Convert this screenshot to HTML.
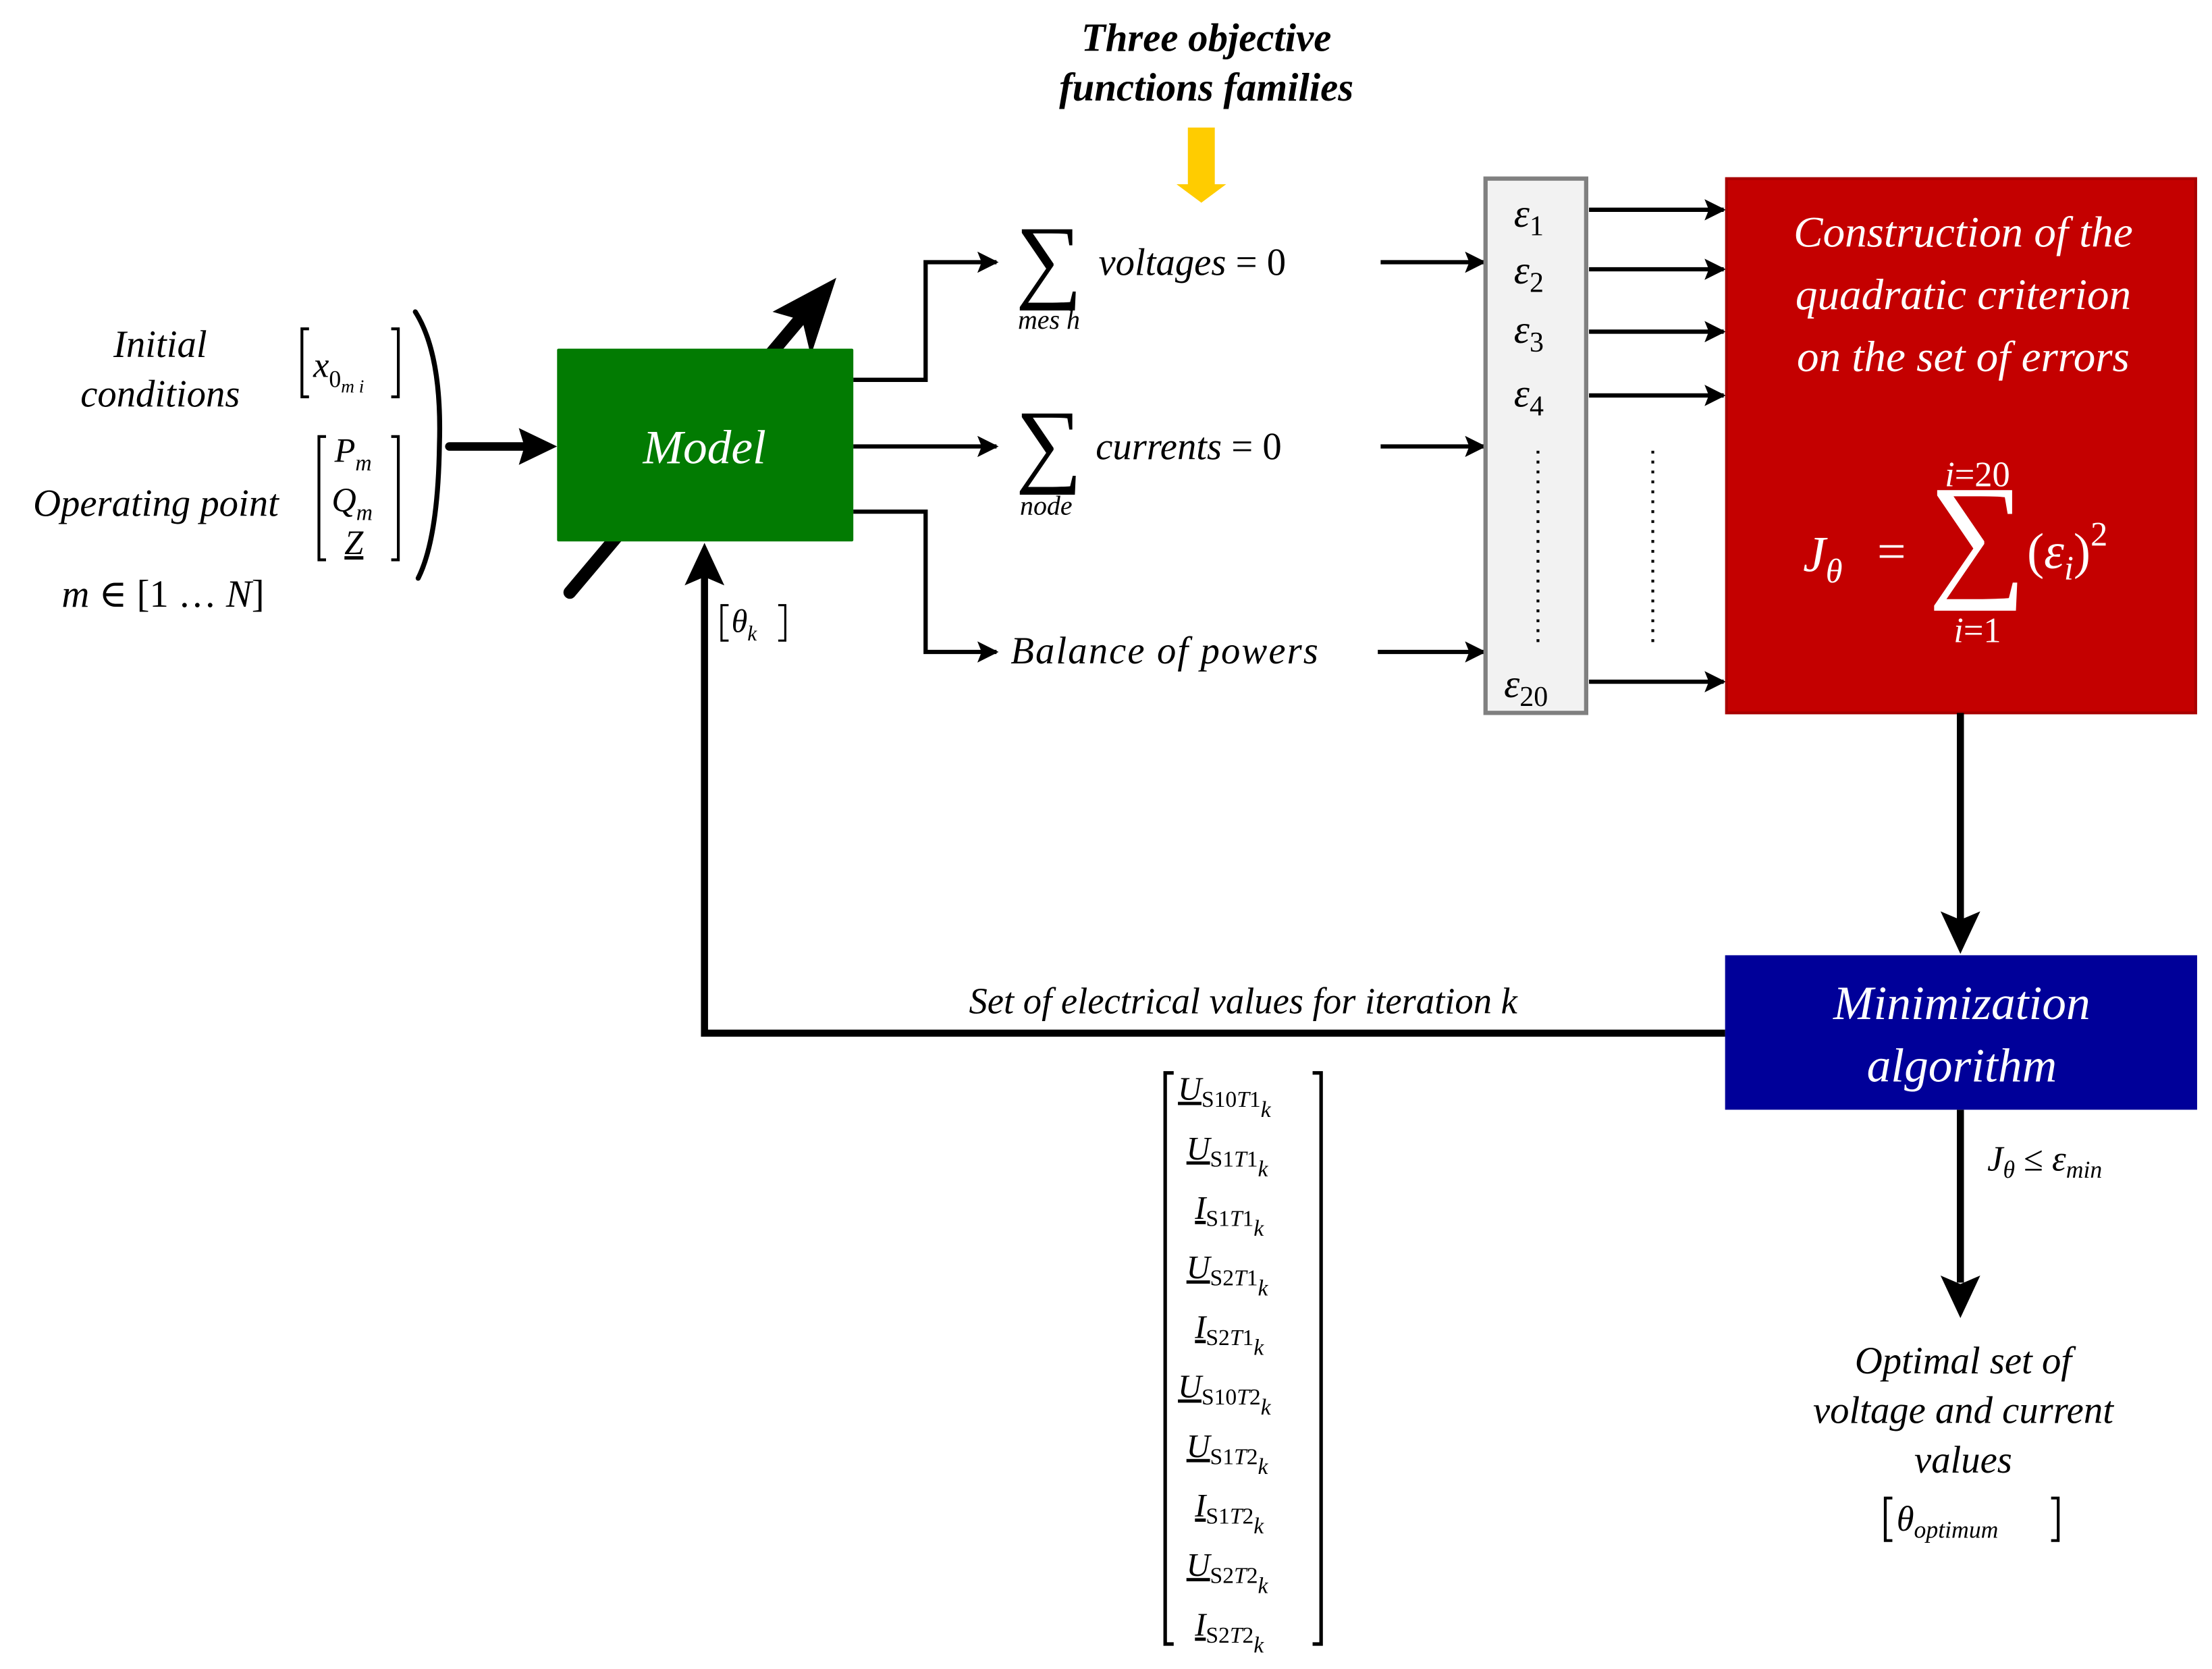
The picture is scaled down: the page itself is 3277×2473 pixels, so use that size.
<!DOCTYPE html>
<html><head><meta charset="utf-8"><style>
html,body{margin:0;padding:0;background:#fff;}
svg{display:block;}
text{font-family:"Liberation Serif","DejaVu Serif",serif;font-style:italic;}
</style></head><body>
<svg xmlns="http://www.w3.org/2000/svg" width="3277" height="2473" viewBox="0 0 1560.5 1177.6">
<defs>
<marker id="ah2" viewBox="0 0 10 10" refX="9" refY="5" markerWidth="5" markerHeight="5" orient="auto"><path d="M0,0 L10,5 L0,10 L2,5 Z" fill="#000"/></marker>
</defs>
<rect width="1560.5" height="1177.6" fill="#fff"/>

<!-- title -->
<text x="851" y="36" font-size="28" font-weight="bold" text-anchor="middle">Three objective</text>
<text x="851" y="71" font-size="28" font-weight="bold" text-anchor="middle">functions families</text>
<path d="M838,90 H857 V130 H865 L847.5,143 L830,130 H838 Z" fill="#ffcc00"/>

<!-- left inputs -->
<text x="113" y="252" font-size="27" text-anchor="middle">Initial</text>
<text x="113" y="287" font-size="27" text-anchor="middle">conditions</text>
<text x="110" y="364" font-size="27" text-anchor="middle">Operating point</text>
<text x="115" y="428" font-size="27" text-anchor="middle">m <tspan font-style="normal">∈ [1 … </tspan>N<tspan font-style="normal">]</tspan></text>
<path d="M218,232 H213 V280 H218 M276,232 H281 V280 H276" fill="none" stroke="#000" stroke-width="2"/>
<text x="221" y="266" font-size="25">x<tspan font-size="17" font-style="normal" dy="7">0</tspan><tspan font-size="13" dy="4">m i</tspan></text>
<path d="M230,308 H225 V395 H230 M276,308 H281 V395 H276" fill="none" stroke="#000" stroke-width="2"/>
<text x="236" y="326" font-size="24">P<tspan font-size="16" dy="6">m</tspan></text>
<text x="234" y="361" font-size="24">Q<tspan font-size="16" dy="6">m</tspan></text>
<text x="243" y="391" font-size="24" text-decoration="underline">Z</text>
<path d="M293,220 Q312,250 310,314 Q309,380 295,408" fill="none" stroke="#000" stroke-width="3.5" stroke-linecap="round"/>
<line x1="317" y1="315" x2="372" y2="315" stroke="#000" stroke-width="6" stroke-linecap="round"/>
<path d="M393,315 L366,302 L370,315 L366,328 Z" fill="#000"/>

<!-- diagonal arrow -->
<line x1="402" y1="418" x2="578" y2="209" stroke="#000" stroke-width="9" stroke-linecap="round"/>
<path d="M590,196 L572,251 L566,226 L545,220 Z" fill="#000"/>

<!-- model box -->
<rect x="393" y="246" width="209" height="136" fill="#027b02" rx="1"/>
<text x="497" y="327" font-size="34" fill="#fff" text-anchor="middle">Model</text>

<!-- model outputs -->
<path d="M602,268 H653 V185 H703" fill="none" stroke="#000" stroke-width="3" marker-end="url(#ah2)"/>
<path d="M602,315 H703" fill="none" stroke="#000" stroke-width="3" marker-end="url(#ah2)"/>
<path d="M602,361 H653 V460 H703" fill="none" stroke="#000" stroke-width="3" marker-end="url(#ah2)"/>

<text x="740" y="205" font-size="66" font-style="normal" text-anchor="middle">∑</text>
<text x="740" y="232" font-size="19" text-anchor="middle">mes h</text>
<text x="775" y="194" font-size="27">voltages <tspan font-style="normal">= 0</tspan></text>
<text x="740" y="335" font-size="66" font-style="normal" text-anchor="middle">∑</text>
<text x="738" y="363" font-size="19" text-anchor="middle">node</text>
<text x="773" y="324" font-size="27">currents <tspan font-style="normal">= 0</tspan></text>
<text x="713" y="468" font-size="27" letter-spacing="1">Balance of powers</text>

<line x1="974" y1="185" x2="1047" y2="185" stroke="#000" stroke-width="3" marker-end="url(#ah2)"/>
<line x1="974" y1="315" x2="1047" y2="315" stroke="#000" stroke-width="3" marker-end="url(#ah2)"/>
<line x1="972" y1="460" x2="1047" y2="460" stroke="#000" stroke-width="3" marker-end="url(#ah2)"/>

<!-- error box -->
<rect x="1048" y="126" width="71" height="377" fill="#f2f2f2" stroke="#808080" stroke-width="3"/>
<g font-size="28">
<text x="1068" y="160">ε<tspan font-size="20" font-style="normal" dy="6">1</tspan></text>
<text x="1068" y="200">ε<tspan font-size="20" font-style="normal" dy="6">2</tspan></text>
<text x="1068" y="242">ε<tspan font-size="20" font-style="normal" dy="6">3</tspan></text>
<text x="1068" y="287">ε<tspan font-size="20" font-style="normal" dy="6">4</tspan></text>
<text x="1061" y="492">ε<tspan font-size="20" font-style="normal" dy="6">20</tspan></text>
</g>
<line x1="1085" y1="318" x2="1085" y2="456" stroke="#000" stroke-width="2" stroke-dasharray="2,5"/>
<line x1="1166" y1="318" x2="1166" y2="456" stroke="#000" stroke-width="2" stroke-dasharray="2,5"/>
<g stroke="#000" stroke-width="3">
<line x1="1121" y1="148" x2="1216" y2="148" marker-end="url(#ah2)"/>
<line x1="1121" y1="190" x2="1216" y2="190" marker-end="url(#ah2)"/>
<line x1="1121" y1="234" x2="1216" y2="234" marker-end="url(#ah2)"/>
<line x1="1121" y1="279" x2="1216" y2="279" marker-end="url(#ah2)"/>
<line x1="1121" y1="481" x2="1216" y2="481" marker-end="url(#ah2)"/>
</g>

<!-- red box -->
<rect x="1218" y="126" width="331" height="377" fill="#c40000" stroke="#a80000" stroke-width="2"/>
<g fill="#fff" font-size="31">
<text x="1385" y="174" text-anchor="middle">Construction of the</text>
<text x="1385" y="218" text-anchor="middle">quadratic criterion</text>
<text x="1385" y="262" text-anchor="middle">on the set of errors</text>
<text x="1395" y="343" font-size="25" text-anchor="middle">i<tspan font-style="normal">=20</tspan></text>
<text x="1395" y="453" font-size="25" text-anchor="middle">i<tspan font-style="normal">=1</tspan></text>
<text x="1395" y="410" font-size="98" font-style="normal" text-anchor="middle">∑</text>
<text x="1272" y="403" font-size="36">J<tspan font-size="24" dy="8">θ</tspan></text>
<text x="1322" y="401" font-size="36" font-style="normal">=</text>
<text x="1430" y="401" font-size="36"><tspan font-style="normal">(</tspan>ε<tspan font-size="24" dy="8">i</tspan><tspan dy="-8" font-style="normal">)</tspan><tspan font-size="24" dy="-16" font-style="normal">2</tspan></text>
</g>

<!-- down arrows -->
<line x1="1383" y1="503" x2="1383" y2="650" stroke="#000" stroke-width="5"/>
<path d="M1383,673 L1369,643 L1383,649 L1397,643 Z" fill="#000"/>
<rect x="1217" y="674" width="333" height="109" fill="#000099"/>
<text x="1384" y="719" font-size="34" fill="#fff" text-anchor="middle">Minimization</text>
<text x="1384" y="763" font-size="34" fill="#fff" text-anchor="middle">algorithm</text>
<line x1="1383" y1="783" x2="1383" y2="905" stroke="#000" stroke-width="5"/>
<path d="M1383,930 L1369,900 L1383,906 L1397,900 Z" fill="#000"/>
<text x="1402" y="826" font-size="25">J<tspan font-size="17" dy="5">θ</tspan><tspan dy="-5" font-style="normal"> ≤ </tspan>ε<tspan font-size="17" dy="5">min</tspan></text>

<text x="1385" y="969" font-size="27" text-anchor="middle">Optimal set of</text>
<text x="1385" y="1004" font-size="27" text-anchor="middle">voltage and current</text>
<text x="1385" y="1039" font-size="27" text-anchor="middle">values</text>
<path d="M1335,1057 H1330 V1087 H1335 M1447,1057 H1452 V1087 H1447" fill="none" stroke="#000" stroke-width="2"/>
<text x="1338" y="1080" font-size="25">θ<tspan font-size="17" dy="5">optimum</tspan></text>

<!-- feedback -->
<path d="M1217,729 H497 V405" fill="none" stroke="#000" stroke-width="5"/>
<path d="M497,383 L483,413 L497,407 L511,413 Z" fill="#000"/>
<text x="877" y="715" font-size="26" text-anchor="middle">Set of electrical values for iteration k</text>
<path d="M514,427 H509 V452 H514 M549,427 H554 V452 H549" fill="none" stroke="#000" stroke-width="1.5"/>
<text x="516" y="446" font-size="23">θ<tspan font-size="15" dy="6">k</tspan></text>

<!-- matrix -->
<path d="M828,757 H822 V1160 H828 M926,757 H932 V1160 H926" fill="none" stroke="#000" stroke-width="2.5"/>
<g font-size="23">
<text x="831" y="776"><tspan text-decoration="underline">U</tspan><tspan font-size="16" font-style="normal" dy="5">S10</tspan><tspan font-size="16" dy="0">T</tspan><tspan font-size="16" font-style="normal">1</tspan><tspan font-size="16" dy="7">k</tspan></text>
<text x="837" y="818"><tspan text-decoration="underline">U</tspan><tspan font-size="16" font-style="normal" dy="5">S1</tspan><tspan font-size="16">T</tspan><tspan font-size="16" font-style="normal">1</tspan><tspan font-size="16" dy="7">k</tspan></text>
<text x="843" y="860"><tspan text-decoration="underline">I</tspan><tspan font-size="16" font-style="normal" dy="5">S1</tspan><tspan font-size="16">T</tspan><tspan font-size="16" font-style="normal">1</tspan><tspan font-size="16" dy="7">k</tspan></text>
<text x="837" y="902"><tspan text-decoration="underline">U</tspan><tspan font-size="16" font-style="normal" dy="5">S2</tspan><tspan font-size="16">T</tspan><tspan font-size="16" font-style="normal">1</tspan><tspan font-size="16" dy="7">k</tspan></text>
<text x="843" y="944"><tspan text-decoration="underline">I</tspan><tspan font-size="16" font-style="normal" dy="5">S2</tspan><tspan font-size="16">T</tspan><tspan font-size="16" font-style="normal">1</tspan><tspan font-size="16" dy="7">k</tspan></text>
<text x="831" y="986"><tspan text-decoration="underline">U</tspan><tspan font-size="16" font-style="normal" dy="5">S10</tspan><tspan font-size="16">T</tspan><tspan font-size="16" font-style="normal">2</tspan><tspan font-size="16" dy="7">k</tspan></text>
<text x="837" y="1028"><tspan text-decoration="underline">U</tspan><tspan font-size="16" font-style="normal" dy="5">S1</tspan><tspan font-size="16">T</tspan><tspan font-size="16" font-style="normal">2</tspan><tspan font-size="16" dy="7">k</tspan></text>
<text x="843" y="1070"><tspan text-decoration="underline">I</tspan><tspan font-size="16" font-style="normal" dy="5">S1</tspan><tspan font-size="16">T</tspan><tspan font-size="16" font-style="normal">2</tspan><tspan font-size="16" dy="7">k</tspan></text>
<text x="837" y="1112"><tspan text-decoration="underline">U</tspan><tspan font-size="16" font-style="normal" dy="5">S2</tspan><tspan font-size="16">T</tspan><tspan font-size="16" font-style="normal">2</tspan><tspan font-size="16" dy="7">k</tspan></text>
<text x="843" y="1154"><tspan text-decoration="underline">I</tspan><tspan font-size="16" font-style="normal" dy="5">S2</tspan><tspan font-size="16">T</tspan><tspan font-size="16" font-style="normal">2</tspan><tspan font-size="16" dy="7">k</tspan></text>
</g>
</svg>
</body></html>
